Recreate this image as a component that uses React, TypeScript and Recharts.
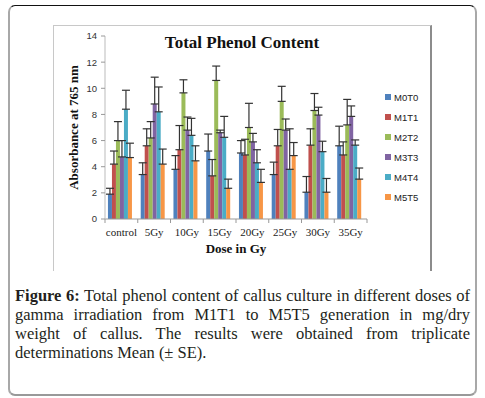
import React from 'react';
import { BarChart, Bar, XAxis, YAxis, Legend, ErrorBar } from 'recharts';

const categories = ['control', '5Gy', '10Gy', '15Gy', '20Gy', '25Gy', '30Gy', '35Gy'];
const seriesNames = ['M0T0', 'M1T1', 'M2T2', 'M3T3', 'M4T4', 'M5T5'];
const seriesColors = ['#4F81BD', '#C0504D', '#9BBB59', '#8064A2', '#4BACC6', '#F79646'];

const m0t0 = [1.9, 3.4, 3.8, 5.2, 5.05, 3.4, 2.05, 5.6];
const m0t0Err = [0.45, 0.9, 1.05, 1.3, 0.95, 0.95, 1.2, 1.5];
const m1t1 = [4.2, 5.6, 5.3, 3.3, 4.9, 5.6, 5.65, 4.9];
const m1t1Err = [1.0, 1.3, 1.85, 1.25, 1.2, 1.25, 1.25, 1.0];
const m2t2 = [6.0, 6.2, 9.65, 10.6, 7.0, 9.0, 8.3, 7.2];
const m2t2Err = [1.45, 1.25, 1.0, 1.1, 1.85, 1.15, 1.3, 1.95];
const m3t3 = [4.75, 8.8, 6.8, 6.6, 5.9, 6.8, 7.95, 7.85];
const m3t3Err = [1.25, 2.05, 1.0, 0.2, 0.65, 0.85, 0.6, 0.8];
const m4t4 = [8.4, 8.2, 6.4, 6.25, 4.3, 3.8, 5.15, 5.65];
const m4t4Err = [1.45, 1.9, 1.3, 1.6, 1.0, 3.1, 0.8, 0.4];
const m5t5 = [4.7, 4.2, 4.45, 2.35, 2.8, 4.85, 2.05, 3.05];
const m5t5Err = [1.1, 1.15, 1.15, 0.7, 1.0, 1.0, 1.05, 0.85];

const yTicks = [0, 2, 4, 6, 8, 10, 12, 14];

const values = [m0t0, m1t1, m2t2, m3t3, m4t4, m5t5];
const errors = [m0t0Err, m1t1Err, m2t2Err, m3t3Err, m4t4Err, m5t5Err];

const data = categories.map((cat, i) => {
  const row: any = { cat };
  seriesNames.forEach((name, s) => {
    row[name] = values[s][i];
    row[name + '_err'] = [0, errors[s][i]];
  });
  return row;
});

const CHART_W = 379;
const CHART_H = 245;
const MARGIN = { top: 11, right: 65, bottom: 11, left: 0 };
const Y_W = 52;
const BAND = (CHART_W - MARGIN.left - MARGIN.right - Y_W) / categories.length;

const CatTick = (props: any) => {
  const { x, y, payload, index } = props;
  const half = BAND / 2;
  return (
    <g>
      <line x1={x - half} y1={y} x2={x - half} y2={y + 4} stroke="#999" />
      {index === categories.length - 1 && (
        <line x1={x + half} y1={y} x2={x + half} y2={y + 4} stroke="#999" />
      )}
      <text
        x={x}
        y={y + 16.5}
        textAnchor="middle"
        fontFamily="'Liberation Serif', serif"
        fontSize={11}
        fill="#222"
      >
        {payload.value}
      </text>
    </g>
  );
};

const renderLegend = () => (
  <div style={{ fontFamily: "'Liberation Sans', Arial, sans-serif", fontSize: 9.5, color: '#222' }}>
    {seriesNames.map((n, i) => (
      <div key={n} style={{ display: 'flex', alignItems: 'center', height: 20 }}>
        <span style={{ display: 'inline-block', width: 6, height: 6, background: seriesColors[i], marginRight: 3 }} />
        <span>{n}</span>
      </div>
    ))}
  </div>
);

const captionLine: React.CSSProperties = {
  textAlign: 'justify',
  textAlignLast: 'justify',
  whiteSpace: 'nowrap',
  height: 19.3,
};

export default function App() {
  return (
    <div style={{ position: 'absolute', left: 0, top: 0, width: 485, height: 398, background: '#fff', overflow: 'hidden' }}>
      <div
        style={{
          position: 'absolute',
          left: 8,
          top: 5,
          width: 469,
          height: 391,
          boxSizing: 'border-box',
          borderTop: '1.5px solid #111',
          borderLeft: '2px solid #a8a8a8',
          borderRight: '2px solid #a8a8a8',
          borderBottom: '2px solid #999',
          borderRadius: 7,
        }}
      />
      <div
        style={{
          position: 'absolute',
          left: 53,
          top: 25,
          width: 379,
          height: 246,
          boxSizing: 'border-box',
          borderTop: '1px solid #c8c8c8',
          borderLeft: '1px solid #c8c8c8',
          borderRight: '2px solid #8c8c8c',
        }}
      />
      <div
        style={{
          position: 'absolute',
          left: 242,
          top: 33,
          transform: 'translateX(-50%)',
          whiteSpace: 'nowrap',
          fontFamily: "'Liberation Serif', 'Times New Roman', serif",
          fontWeight: 'bold',
          fontSize: 17,
          color: '#111',
          lineHeight: '20px',
        }}
      >
        Total Phenol Content
      </div>
      <div style={{ position: 'absolute', left: 53, top: 25 }}>
        <BarChart
          width={CHART_W}
          height={CHART_H}
          data={data}
          margin={MARGIN}
          barCategoryGap="9%"
          barGap={0}
        >
          <XAxis
            dataKey="cat"
            height={40}
            interval={0}
            tickSize={0}
            tickMargin={0}
            tickLine={false}
            axisLine={{ stroke: '#999' }}
            tick={<CatTick />}
            label={{
              value: 'Dose in Gy',
              position: 'insideBottom',
              offset: 6.5,
              fontFamily: "'Liberation Serif', serif",
              fontWeight: 'bold',
              fontSize: 13,
              fill: '#111',
            }}
          />
          <YAxis
            width={Y_W}
            domain={[0, 14]}
            ticks={yTicks}
            interval={0}
            tickSize={4}
            tickMargin={4}
            axisLine={{ stroke: '#bbb' }}
            tickLine={{ stroke: '#999' }}
            tick={{ fontSize: 9.5, fill: '#333', fontFamily: "'Liberation Sans', Arial, sans-serif" }}
            label={{
              value: 'Absorbance  at  765 nm',
              angle: -90,
              position: 'center',
              dx: -6,
              fontFamily: "'Liberation Serif', serif",
              fontWeight: 'bold',
              fontSize: 13,
              fill: '#111',
            }}
          />
          <Legend
            layout="horizontal"
            verticalAlign="middle"
            align="center"
            content={renderLegend}
            wrapperStyle={{ left: 332, top: 62, width: 60, height: 120 }}
          />
          {seriesNames.map((name, i) => (
            <Bar key={name} dataKey={name} fill={seriesColors[i]} isAnimationActive={false}>
              <ErrorBar dataKey={name + '_err'} direction="y" width={4} stroke="#333" strokeWidth={1.2} isAnimationActive={false} />
            </Bar>
          ))}
        </BarChart>
      </div>
      <div
        style={{
          position: 'absolute',
          left: 15,
          top: 285.5,
          width: 455,
          fontFamily: "'Liberation Serif', 'Times New Roman', serif",
          fontSize: 16.5,
          lineHeight: '19.3px',
          color: '#231f20',
        }}
      >
        <div style={captionLine}>
          <b>Figure 6:</b> Total phenol content of callus culture in different doses of
        </div>
        <div style={captionLine}>gamma irradiation from M1T1 to M5T5 generation in mg/dry</div>
        <div style={captionLine}>weight of callus. The results were obtained from triplicate</div>
        <div style={{ height: 19.3, whiteSpace: 'nowrap' }}>determinations Mean (± SE).</div>
      </div>
    </div>
  );
}
